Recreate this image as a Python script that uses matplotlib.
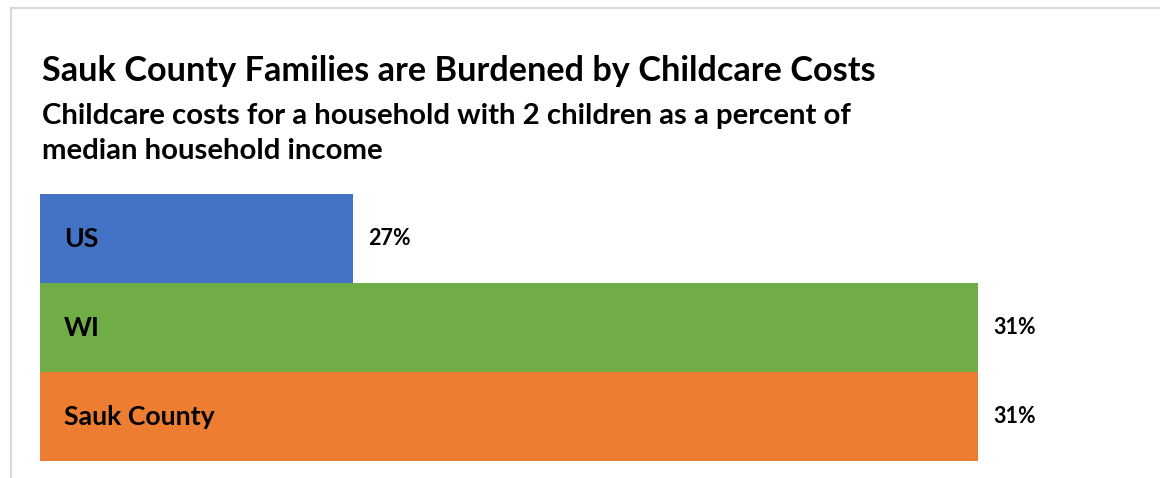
import matplotlib
matplotlib.use("Agg")
import matplotlib.pyplot as plt
from matplotlib.lines import Line2D

# Childcare cost as share of median household income, 2 children
regions = ["US", "WI", "Sauk County"]
cost_pct = [27, 31, 31]
bar_colors = ["#4472C4", "#70AD47", "#ED7D31"]

title = "Sauk County Families are Burdened by Childcare Costs"
subtitle = "Childcare costs for a household with 2 children as a percent of\nmedian household income"

W, H = 1160, 478
plt.rcParams["font.family"] = ["Lato", "DejaVu Sans"]

fig = plt.figure(figsize=(W / 100, H / 100), dpi=100)
fig.patch.set_facecolor("white")

# light chart-area border (top and left edges only visible)
frame_col = "#D9D9D9"
fig.add_artist(Line2D([11 / W, 1.0], [1 - 8 / H, 1 - 8 / H], color=frame_col, lw=1.5))
fig.add_artist(Line2D([11 / W, 11 / W], [0.0, 1 - 8 / H], color=frame_col, lw=1.5))

fig.text(42 / W, 1 - 81 / H, title, fontsize=24.7, fontweight="bold", color="black")
fig.text(42 / W, 1 - 159 / H, subtitle, fontsize=21.2, fontweight="bold",
         color="black", linespacing=1.45)

left, right = 40 / W, 1134 / W
top, bottom = 1 - 194 / H, 1 - 461 / H
ax = fig.add_axes([left, bottom, right - left, top - bottom])

y = range(len(regions))
ax.barh(y, cost_pct, height=1.0, color=bar_colors, left=0)
ax.set_xlim(25, 32)
ax.set_ylim(len(regions) - 0.5, -0.5)
ax.axis("off")

for i, (name, v) in enumerate(zip(regions, cost_pct)):
    ax.annotate(name, xy=(0, i), xycoords=("axes fraction", "data"),
                xytext=(24, 0), textcoords="offset pixels",
                ha="left", va="center", fontsize=19.2, fontweight="bold")
    ax.annotate(f"{v}%", xy=(v, i), xytext=(16, 0), textcoords="offset pixels",
                ha="left", va="center", fontsize=15.5, fontweight="bold")

fig.savefig("out.png", dpi=100)
